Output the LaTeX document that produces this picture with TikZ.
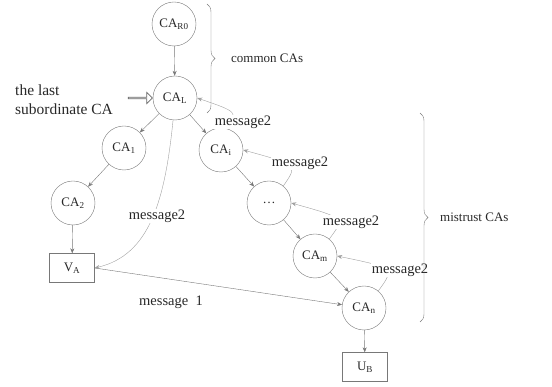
\documentclass[tikz,border=0pt]{standalone}
\usepackage{fontspec}
\setmainfont{Liberation Serif}
\usetikzlibrary{arrows.meta, decorations.pathreplacing, shapes.arrows}
\definecolor{linegray}{RGB}{120,120,120}
\definecolor{msggray}{RGB}{160,160,160}
\definecolor{textgray}{RGB}{40,40,40}
\tikzset{
  canode/.style={circle, draw=linegray, minimum size=44pt, inner sep=0pt,
                 text=textgray},
  userbox/.style={rectangle, draw=linegray, minimum width=45pt,
                  minimum height=29pt, inner sep=0pt, text=textgray},
  lbl/.style={text=textgray, inner sep=1pt},
  msglbl/.style={lbl, fill=white, font=\fontsize{14.5}{17}\selectfont},
  arr/.style={-{Stealth[length=5pt,width=4pt]}, draw=linegray},
  msgarr/.style={-{Stealth[length=5pt,width=4pt]}, draw=msggray},
  brc/.style={decorate, decoration={brace, amplitude=8pt}, draw=linegray},
  hollowarr/.style={single arrow, draw=textgray!70, line width=0.7pt,
                    minimum height=24pt, minimum width=11pt, inner sep=0pt,
                    single arrow head extend=2.5pt,
                    single arrow head indent=0pt},
}

\begin{document}
\begin{tikzpicture}[x=1pt, y=-1pt, font=\fontsize{13}{19}\selectfont]
  \useasboundingbox (0,0) rectangle (552,387);

  % CA chain
  \node[canode] (car)    at (174,24)  {CA\textsubscript{R0}};
  \node[canode] (cal)    at (175,98)  {CA\textsubscript{L}};
  \node[canode] (caone)  at (124,148) {CA\textsubscript{1}};
  \node[canode] (catwo)  at (73,203)  {CA\textsubscript{2}};
  \node[userbox] (va)    at (72,268)  {V\textsubscript{A}};
  \node[canode] (cai)    at (221,150) {CA\textsubscript{i}};
  \node[canode] (cadots) at (269,203) {\dots};
  \node[canode] (cam)    at (315,256) {CA\textsubscript{m}};
  \node[canode] (can)    at (364,308) {CA\textsubscript{n}};
  \node[userbox] (ub)    at (365,367) {U\textsubscript{B}};

  % certification path
  \draw[arr] (car) -- (cal);
  \draw[arr] (cal) -- (caone);
  \draw[arr] (caone) -- (catwo);
  \draw[arr] (catwo) -- (va);
  \draw[arr] (cal) -- (cai);
  \draw[arr] (cai) -- (cadots);
  \draw[arr] (cadots) -- (cam);
  \draw[arr] (cam) -- (can);
  \draw[arr] (can) -- (ub);

  % messages
  \draw[arr] (va.east) -- (can);
  \draw[msgarr] (cal.265) .. controls (165,200) and (150,255) .. (va.east);
  \draw[msgarr] (cai.75) .. controls (238,112) .. (cal.east);
  \draw[msgarr] (cadots.50) .. controls (298,165) .. (cai.east);
  \draw[msgarr] (cam.50) .. controls (345,218) .. (cadots.east);
  \draw[msgarr] (can.50) .. controls (395,268) .. (cam.east);

  \node[msglbl, fill=none] (msgone) at (171,302) {message\enspace 1};
  \node[msglbl] (msgleft)  at (157,216) {message2};
  \node[msglbl] (msgcal)   at (243,122) {message2};
  \node[msglbl] (msgcai)   at (300,163) {message2};
  \node[msglbl] (msgdots)  at (351,222) {message2};
  \node[msglbl] (msgcam)   at (400,270) {message2};

  % last subordinate CA
  \node[lbl, align=left, anchor=west, font=\fontsize{15.5}{19}\selectfont]
    (lastsub) at (14,100) {the last\\subordinate CA};
  \node[hollowarr, anchor=tip] (subarrow) at (cal.west) {};

  % braces
  \draw[brc] (207,4) -- (207,113);
  \node[lbl, anchor=west] (common) at (230,58) {common CAs};
  \draw[brc] (420,113) -- (420,322);
  \node[lbl, anchor=west] (mistrust) at (439,217) {mistrust CAs};
\end{tikzpicture}
\end{document}
